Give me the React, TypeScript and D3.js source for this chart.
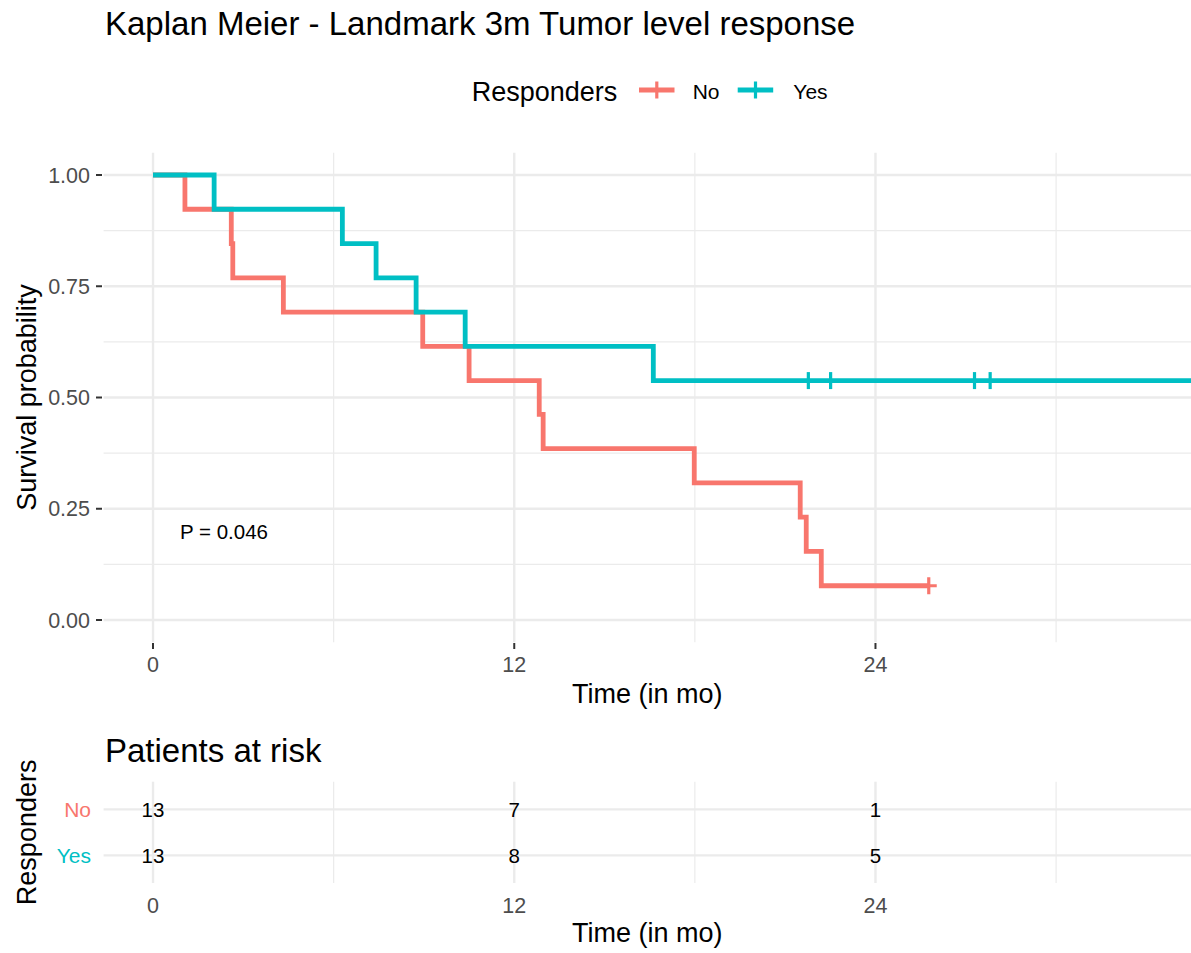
import React from "react";
import * as d3 from "d3";

const groups = ["No", "Yes"];
const groupColors = ["#F8766D", "#00BFC4"];

// Kaplan–Meier step data
const noStepTimes = [0, 1.06, 2.6, 2.65, 4.33, 8.96, 10.5, 12.83, 12.96, 17.98, 21.5, 21.7, 22.2];
const noSurv = [1, 0.923, 0.846, 0.769, 0.692, 0.615, 0.538, 0.462, 0.385, 0.308, 0.231, 0.154, 0.077];
const noCensorTimes = [25.77];
const noLastTime = 25.77;

const yesStepTimes = [0, 2.03, 6.29, 7.41, 8.74, 10.37, 16.62];
const yesSurv = [1, 0.923, 0.846, 0.769, 0.692, 0.615, 0.538];
const yesCensorTimes = [21.77, 22.51, 27.29, 27.81];
const yesLastTime = 32.84;

const riskTimes = [0, 12, 24];
const noAtRisk = [13, 7, 1];
const yesAtRisk = [13, 8, 5];

const xMajorTicks = [0, 12, 24];
const xMinorTicks = [6, 18, 30];
const yMajorTicks = [0, 0.25, 0.5, 0.75, 1];
const yMinorTicks = [0.125, 0.375, 0.625, 0.875];
const yTickLabels = ["0.00", "0.25", "0.50", "0.75", "1.00"];

const pValueText = "P = 0.046";

const W = 1191;
const H = 953;
const FONT = "'Liberation Sans', Arial, Helvetica, sans-serif";
const GRID = "#EBEBEB";
const TICKTXT = "#4D4D4D";

export default function App() {
  const xMaxData = yesLastTime;
  const xExp = xMaxData * 0.05;
  const x = d3.scaleLinear().domain([-xExp, xMaxData + xExp]).range([103.6, 1191]);
  const y = d3.scaleLinear().domain([-0.05, 1.05]).range([642.25, 152.75]);

  const [pL, pR] = x.range();
  const [pB, pT] = y.range();

  // risk table
  const riskTop = 781.7;
  const riskBottom = 883;
  const yRisk = d3.scaleLinear().domain([0.4, 2.6]).range([riskBottom, riskTop]);
  const rowLevel = { No: 2, Yes: 1 } as Record<string, number>;

  const line = d3
    .line<[number, number]>()
    .x((d) => x(d[0]))
    .y((d) => y(d[1]))
    .curve(d3.curveStepAfter);

  const series = [
    { name: "No", color: groupColors[0], times: noStepTimes, surv: noSurv, censor: noCensorTimes, last: noLastTime },
    { name: "Yes", color: groupColors[1], times: yesStepTimes, surv: yesSurv, censor: yesCensorTimes, last: yesLastTime },
  ];

  const survAt = (times: number[], surv: number[], t: number) => {
    let s = surv[0];
    for (let i = 0; i < times.length; i++) if (times[i] <= t) s = surv[i];
    return s;
  };

  const risk = [
    { name: "No", color: groupColors[0], vals: noAtRisk },
    { name: "Yes", color: groupColors[1], vals: yesAtRisk },
  ];

  return (
    <svg
      width={W}
      height={H}
      style={{ position: "absolute", left: 0, top: 0, background: "#fff" }}
      fontFamily={FONT}
    >
      <rect x={0} y={0} width={W} height={H} fill="#fff" />
      {/* Title */}
      <text x={105} y={35} fontSize={33} fill="#000">
        Kaplan Meier - Landmark 3m Tumor level response
      </text>

      {/* Legend */}
      <text x={471.7} y={101} fontSize={27} fill="#000">
        Responders
      </text>
      {[
        { x0: 639, lx: 692.7 },
        { x0: 737.7, lx: 793.3 },
      ].map((k, i) => (
        <g key={groups[i]}>
          <line x1={k.x0} x2={k.x0 + 35.5} y1={90} y2={90} stroke={groupColors[i]} strokeWidth={5} />
          <line x1={k.x0 + 17.8} x2={k.x0 + 17.8} y1={81.5} y2={98.5} stroke={groupColors[i]} strokeWidth={3.2} />
          <text x={k.lx} y={98.5} fontSize={21} fill="#000">
            {groups[i]}
          </text>
        </g>
      ))}

      {/* Main panel grid */}
      <g>
        {yMinorTicks.map((t) => (
          <line key={"ym" + t} x1={pL} x2={pR} y1={y(t)} y2={y(t)} stroke={GRID} strokeWidth={1.2} />
        ))}
        {xMinorTicks.map((t) => (
          <line key={"xm" + t} x1={x(t)} x2={x(t)} y1={pT} y2={pB} stroke={GRID} strokeWidth={1.2} />
        ))}
        {yMajorTicks.map((t) => (
          <line key={"yM" + t} x1={pL} x2={pR} y1={y(t)} y2={y(t)} stroke={GRID} strokeWidth={2.4} />
        ))}
        {xMajorTicks.map((t) => (
          <line key={"xM" + t} x1={x(t)} x2={x(t)} y1={pT} y2={pB} stroke={GRID} strokeWidth={2.4} />
        ))}
      </g>

      {/* Axes ticks and labels */}
      {yMajorTicks.map((t, i) => (
        <g key={"yt" + t}>
          <line x1={96} x2={102} y1={y(t)} y2={y(t)} stroke="#333" strokeWidth={2} />
          <text x={90} y={y(t) + 7.7} textAnchor="end" fontSize={21.5} fill={TICKTXT}>
            {yTickLabels[i]}
          </text>
        </g>
      ))}
      {xMajorTicks.map((t) => (
        <g key={"xt" + t}>
          <line x1={x(t)} x2={x(t)} y1={643} y2={649} stroke="#333" strokeWidth={2} />
          <text x={x(t)} y={672} textAnchor="middle" fontSize={21.5} fill={TICKTXT}>
            {t}
          </text>
        </g>
      ))}
      <text x={(pL + pR) / 2} y={702.5} textAnchor="middle" fontSize={27} fill="#000">
        Time (in mo)
      </text>
      <text
        transform={`translate(36, ${(pT + pB) / 2}) rotate(-90)`}
        textAnchor="middle"
        fontSize={27}
        fill="#000"
      >
        Survival probability
      </text>

      {/* KM curves */}
      <defs>
        <clipPath id="panelClip">
          <rect x={pL} y={pT - 10} width={pR - pL} height={pB - pT + 20} />
        </clipPath>
      </defs>
      <g clipPath="url(#panelClip)">
        {series.map((s) => {
          const pts: [number, number][] = s.times.map((t, i) => [t, s.surv[i]] as [number, number]);
          const lastS = s.surv[s.surv.length - 1];
          // the "Yes" curve continues past the right edge of the visible panel
          pts.push([s.name === "Yes" ? x.domain()[1] + 1 : s.last, lastS]);
          return (
            <g key={s.name}>
              <path d={line(pts) || ""} fill="none" stroke={s.color} strokeWidth={4.8} strokeLinejoin="miter" strokeLinecap="butt" />
              {s.censor.map((c) => {
                const cx = x(c);
                const cy = y(survAt(s.times, s.surv, c));
                return (
                  <g key={c}>
                    <line x1={cx} x2={cx} y1={cy - 8.5} y2={cy + 8.5} stroke={s.color} strokeWidth={3.2} />
                    <line x1={cx - 8} x2={cx + 8} y1={cy} y2={cy} stroke={s.color} strokeWidth={3.2} />
                  </g>
                );
              })}
            </g>
          );
        })}
      </g>

      <text x={180} y={539.3} fontSize={20.5} fill="#000">
        {pValueText}
      </text>

      {/* Risk table */}
      <text x={105} y={762} fontSize={33} fill="#000">
        Patients at risk
      </text>
      <g>
        {xMinorTicks.map((t) => (
          <line key={"rxm" + t} x1={x(t)} x2={x(t)} y1={riskTop} y2={riskBottom} stroke={GRID} strokeWidth={1.2} />
        ))}
        {xMajorTicks.map((t) => (
          <line key={"rxM" + t} x1={x(t)} x2={x(t)} y1={riskTop} y2={riskBottom} stroke={GRID} strokeWidth={2.4} />
        ))}
        {groups.map((g) => (
          <line key={"ry" + g} x1={pL} x2={pR} y1={yRisk(rowLevel[g])} y2={yRisk(rowLevel[g])} stroke={GRID} strokeWidth={2.4} />
        ))}
      </g>
      {risk.map((r) => (
        <g key={"risk" + r.name}>
          <text x={91} y={yRisk(rowLevel[r.name]) + 7.5} textAnchor="end" fontSize={21} fill={r.color}>
            {r.name}
          </text>
          {riskTimes.map((t, i) => (
            <text key={t} x={x(t)} y={yRisk(rowLevel[r.name]) + 7.2} textAnchor="middle" fontSize={20.5} fill="#000">
              {r.vals[i]}
            </text>
          ))}
        </g>
      ))}
      {xMajorTicks.map((t) => (
        <text key={"rtl" + t} x={x(t)} y={913} textAnchor="middle" fontSize={21.5} fill={TICKTXT}>
          {t}
        </text>
      ))}
      <text x={(pL + pR) / 2} y={942} textAnchor="middle" fontSize={27} fill="#000">
        Time (in mo)
      </text>
      <text
        transform={`translate(36, ${(riskTop + riskBottom) / 2}) rotate(-90)`}
        textAnchor="middle"
        fontSize={27}
        fill="#000"
      >
        Responders
      </text>
    </svg>
  );
}
